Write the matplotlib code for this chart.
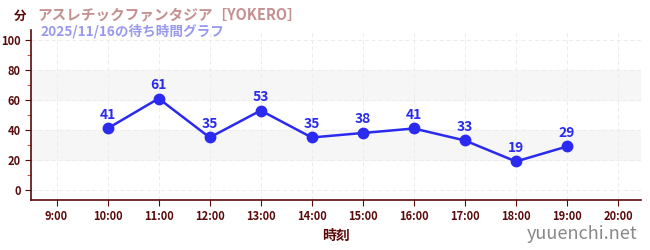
import matplotlib
matplotlib.use("Agg")
from matplotlib import pyplot as plt
from matplotlib.ticker import MultipleLocator

plt.rcParams['font.family'] = ['Noto Sans CJK JP', 'DejaVu Sans']

hours = [10, 11, 12, 13, 14, 15, 16, 17, 18, 19]
waits = [41, 61, 35, 53, 35, 38, 41, 33, 19, 29]
tick_hours = list(range(9, 21))
tick_labels = [f"{h}:00" for h in tick_hours]

title = "アスレチックファンタジア［YOKERO］"
subtitle = "2025/11/16の待ち時間グラフ"

axis_col = "#5a0a0a"
line_col = "#2a2af0"

fig = plt.figure(figsize=(6.5, 2.5), dpi=100)
ax = fig.add_axes([31 / 650, 50 / 250, 610 / 650, 170 / 250])

ax.set_xlim(8.5, 20.45)
ax.set_ylim(-6.7, 106.7)

# alternating bands
for lo in (20, 60):
    ax.axhspan(lo, lo + 20, color="#f6f6f6", zorder=0)

ax.grid(True, color="#ececec", linestyle=(0, (4, 3)), linewidth=0.7, zorder=0)

ax.plot(hours, waits, color=line_col, linewidth=1.8, marker="o",
        markersize=7.5, zorder=3)
for h, w in zip(hours, waits):
    ax.annotate(str(w), (h, w), xytext=(0, 5), textcoords="offset points",
                ha="center", va="bottom", color=line_col, fontsize=10,
                fontweight="bold")

ax.set_xticks(tick_hours)
ax.set_xticklabels(tick_labels)
ax.set_yticks(range(0, 101, 20))
ax.yaxis.set_minor_locator(MultipleLocator(10))
ax.tick_params(axis="both", colors=axis_col, labelsize=8, length=4)
ax.tick_params(axis="y", which="minor", colors="#dd2222", length=3)
for lbl in ax.get_xticklabels() + ax.get_yticklabels():
    lbl.set_fontweight("bold")
    lbl.set_color(axis_col)

for side in ("top", "right"):
    ax.spines[side].set_visible(False)
for side in ("left", "bottom"):
    ax.spines[side].set_color(axis_col)
    ax.spines[side].set_linewidth(1.2)

ax.set_xlabel("時刻", color=axis_col, fontsize=10, fontweight="bold", labelpad=4)

fig.text(20 / 650, 1 - 16 / 250, "分", color=axis_col, fontsize=9,
         fontweight="bold", ha="center", va="center")
fig.text(37 / 650, 1 - 14 / 250, title, color="#c49090", fontsize=10.5,
         fontweight="bold", ha="left", va="center")
fig.text(40 / 650, 1 - 31 / 250, subtitle, color="#9999ee", fontsize=9.8,
         fontweight="bold", ha="left", va="center")
fig.text(637 / 650, 1 - 234 / 250, "yuuenchi.net", color="#888888",
         fontsize=13, ha="right", va="center")

fig.savefig("out.png", dpi=100)
